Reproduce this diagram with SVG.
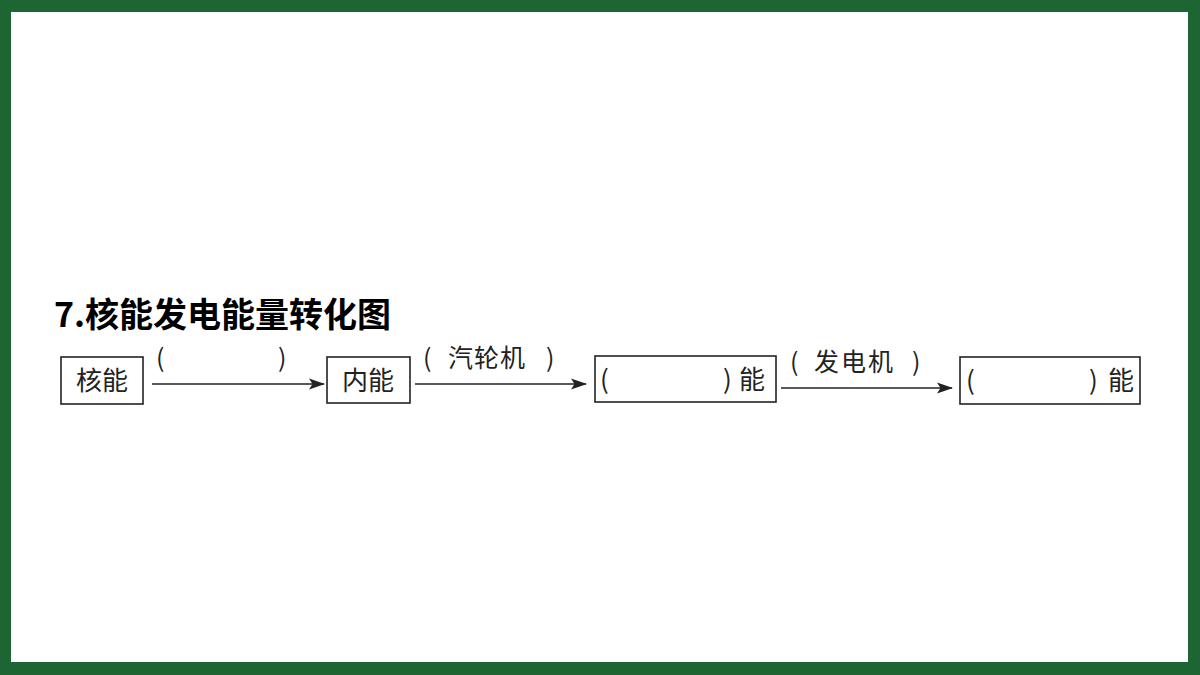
<svg xmlns="http://www.w3.org/2000/svg" width="1200" height="675" viewBox="0 0 1200 675">
<defs>
<style>
.box{fill:#fff;stroke:#222;stroke-width:1.6}
.t{font-family:"Noto Sans CJK SC","Liberation Sans",sans-serif;font-size:26px;fill:#222}
.lbl{font-family:"Noto Sans CJK SC","Liberation Sans",sans-serif;font-size:25px;fill:#222}
.line{stroke:#222;stroke-width:1.6;fill:none}
</style>
<marker id="ah" viewBox="0 0 16 12" refX="15" refY="6" markerWidth="16" markerHeight="12" markerUnits="userSpaceOnUse" orient="auto">
<path d="M0,0.5 L16,6 L0,11.5 L3.5,6 Z" fill="#222"/>
</marker>
</defs>
<rect x="0" y="0" width="1200" height="675" fill="#1d6532"/>
<rect x="11" y="12" width="1177" height="650" fill="#fff"/>
<text x="54" y="327" font-family="'Noto Sans CJK SC','Liberation Sans',sans-serif" font-size="34" font-weight="bold" fill="#000">7.核能发电能量转化图</text>
<g id="n1"><rect class="box" x="61" y="357" width="82" height="47"/><text class="t" x="102" y="390" text-anchor="middle">核能</text></g>
<g id="n2"><rect class="box" x="327" y="357" width="83" height="46"/><text class="t" x="368" y="390" text-anchor="middle">内能</text></g>
<g id="n3"><rect class="box" x="595" y="356" width="181" height="46"/><text class="t" x="600" y="389">(</text><text class="t" x="723" y="389">)</text><text class="t" x="739" y="389">能</text></g>
<g id="n4"><rect class="box" x="960" y="357" width="180" height="47"/><text class="t" x="966" y="390">(</text><text class="t" x="1089" y="390">)</text><text class="t" x="1108" y="390">能</text></g>
<g id="connectors">
<line class="line" x1="152" y1="384" x2="324" y2="384" marker-end="url(#ah)"/>
<line class="line" x1="415" y1="384" x2="586" y2="384" marker-end="url(#ah)"/>
<line class="line" x1="781" y1="388" x2="952" y2="388" marker-end="url(#ah)"/>
<text class="lbl" x="156" y="367">(</text><text class="lbl" x="278" y="367">)</text>
<text class="lbl" x="423" y="367">(</text><text class="lbl" x="448" y="367" letter-spacing="1">汽轮机</text><text class="lbl" x="546" y="367">)</text>
<text class="lbl" x="790" y="371">(</text><text class="lbl" x="814" y="371" letter-spacing="2">发电机</text><text class="lbl" x="912" y="371">)</text>
</g>
</svg>
